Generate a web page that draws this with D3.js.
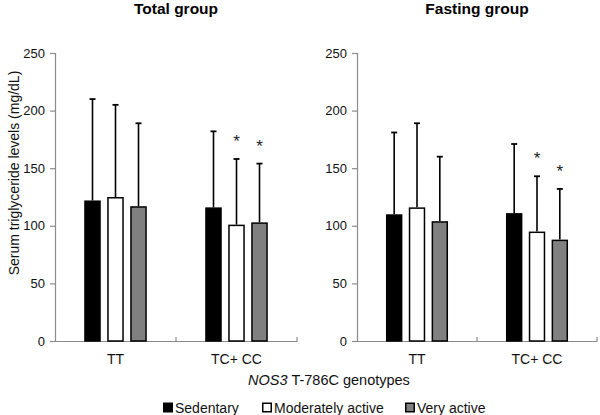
<!DOCTYPE html>
<html><head><meta charset="utf-8">
<script src="https://cdn.jsdelivr.net/npm/d3@7"></script>
<style>body{margin:0;background:#fff}svg{display:block;font-family:"Liberation Sans",Arial,sans-serif}</style>
</head><body><svg id="c" width="600" height="415"></svg>
<script>
const categories = ["TT", "TC+ CC"];
const series = ["Sedentary", "Moderately active", "Very active"];
const yTicks = [0, 50, 100, 150, 200, 250];
const totalMeans = [[122, 125, 117], [116, 101, 103]];
const totalSD = [[88, 80, 72], [66, 57, 51]];
const totalSig = [[false, false, false], [false, true, true]];
const fastingMeans = [[110, 116, 104], [111, 95, 88]];
const fastingSD = [[71, 73, 56], [60, 48, 44]];
const fastingSig = [[false, false, false], [false, true, true]];
const panelTitles = ["Total group", "Fasting group"];
const fills = ["#000000", "#ffffff", "#808080"];

const svg = d3.select("#c");
const y = d3.scaleLinear().domain([0, 250]).range([341, 53]);
const axisColor = "#8c8c8c";
const ff = "'Liberation Sans',Arial,sans-serif";

const panels = [
  {title: panelTitles[0], means: totalMeans, sd: totalSD, sig: totalSig, x0: 55, x1: 297},
  {title: panelTitles[1], means: fastingMeans, sd: fastingSD, sig: fastingSig, x0: 357, x1: 597}
];

panels.forEach(p => {
  const g = svg.append("g");
  const x = d3.scaleBand().domain(categories).range([p.x0, p.x1]).padding(0);
  const xs = d3.scaleBand().domain(series).range([0, x.bandwidth()]).paddingInner(0.28).paddingOuter(1.27);

  g.append("text").attr("x", (p.x0 + p.x1) / 2).attr("y", 14).attr("text-anchor", "middle")
    .style("font-weight", "bold").style("font-size", "15.5px").text(p.title);

  const ya = g.append("g").attr("transform", `translate(${p.x0},0)`)
    .call(d3.axisLeft(y).tickValues(yTicks).tickSize(5).tickPadding(5));
  ya.select(".domain").attr("stroke", axisColor).attr("stroke-width", 1.2);
  ya.selectAll(".tick line").attr("stroke", axisColor).attr("stroke-width", 1.2);
  ya.selectAll(".tick text").style("font-size", "13px").attr("fill", "#111").style("font-family", ff);

  const xa = g.append("g").attr("transform", `translate(0,341)`)
    .call(d3.axisBottom(x).tickSize(0).tickPadding(13));
  xa.select(".domain").attr("stroke", axisColor).attr("stroke-width", 1.2);
  xa.selectAll(".tick text").style("font-size", "14px").attr("fill", "#111").style("font-family", ff);
  const bounds = [x(categories[1]), p.x1];
  g.selectAll(".bt").data(bounds).enter().append("line")
    .attr("x1", d => d).attr("x2", d => d).attr("y1", 341).attr("y2", 337)
    .attr("stroke", axisColor).attr("stroke-width", 1.2);

  categories.forEach((c, ci) => {
    series.forEach((s, si) => {
      const m = p.means[ci][si], sd = p.sd[ci][si];
      const bx = x(c) + xs(s), bw = xs.bandwidth(), cx = bx + bw / 2;
      g.append("line").attr("x1", cx).attr("x2", cx).attr("y1", y(m)).attr("y2", y(m + sd))
        .attr("stroke", "#000").attr("stroke-width", 1.6);
      g.append("line").attr("x1", cx - 3).attr("x2", cx + 3).attr("y1", y(m + sd)).attr("y2", y(m + sd))
        .attr("stroke", "#000").attr("stroke-width", 1.8);
      g.append("rect").attr("x", bx + 0.75).attr("y", y(m) + 0.75).attr("width", bw - 1.5)
        .attr("height", y(0) - y(m) - 0.75)
        .attr("fill", fills[si]).attr("stroke", "#000").attr("stroke-width", 1.5);
      if (p.sig[ci][si]) {
        g.append("text").attr("x", cx).attr("y", y(m + sd) - 12).attr("text-anchor", "middle")
          .style("font-size", "17px").attr("fill", "#222").text("*");
      }
    });
  });
});

svg.append("text").attr("transform", "translate(19,173) rotate(-90)").attr("text-anchor", "middle")
  .style("font-size", "14px").attr("fill", "#111").text("Serum triglyceride levels (mg/dL)");

const xl = svg.append("text").attr("x", 329).attr("y", 385).attr("text-anchor", "middle")
  .style("font-size", "14.5px").attr("fill", "#111");
xl.append("tspan").style("font-style", "italic").text("NOS3");
xl.append("tspan").text(" T-786C genotypes");

const legX = [163, 262, 405];
series.forEach((s, i) => {
  svg.append("rect").attr("x", legX[i] + 0.75).attr("y", 403.25).attr("width", 8.5).attr("height", 8.5)
    .attr("fill", fills[i]).attr("stroke", "#000").attr("stroke-width", 1.5);
  svg.append("text").attr("x", legX[i] + 12).attr("y", 413).style("font-size", "14px")
    .attr("fill", "#111").text(s);
});
</script></body></html>
